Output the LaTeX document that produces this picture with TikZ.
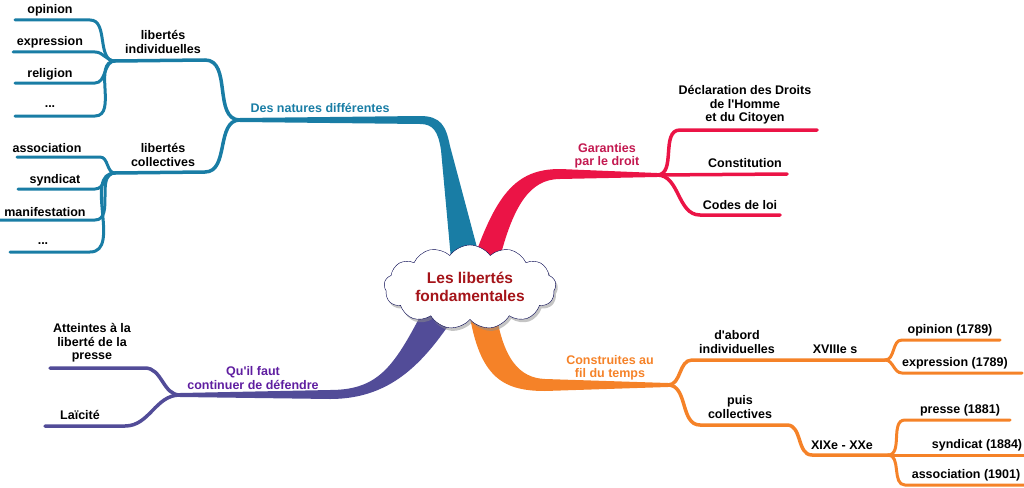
\documentclass[tikz,border=0pt]{standalone}
\usepackage{fontspec}
\setmainfont{Liberation Sans}
\usetikzlibrary{shapes.symbols,shadows}
\definecolor{natblue}{RGB}{25,125,165}
\definecolor{garred}{RGB}{235,20,70}
\definecolor{gartext}{RGB}{195,25,80}
\definecolor{conorange}{RGB}{245,130,40}
\definecolor{defpurple}{RGB}{82,76,152}
\definecolor{deftext}{RGB}{95,30,160}
\definecolor{roottext}{RGB}{165,20,25}

\begin{document}
\begin{tikzpicture}[
	x=1pt,y=-1pt,
	lbl/.style={font=\bfseries\fontsize{12.5}{13.5}\selectfont,align=center,inner sep=0pt},
	leaf/.style={line width=3pt,line cap=round},
	sub/.style={line width=3.5pt,line cap=round},
	]
	\useasboundingbox (0,0) rectangle (1024,487);

	\coordinate (jnat) at (240,120);
	\coordinate (jind) at (115,61);
	\coordinate (jcol) at (115,173);
	\coordinate (jgar) at (657,175);
	\coordinate (jcon) at (668,385);
	\coordinate (jdab) at (790,360);
	\coordinate (jxviii) at (885,360);
	\coordinate (jpuis) at (787,425);
	\coordinate (jxix) at (888,455);
	\coordinate (jdef) at (180,395);

	\fill[natblue] (240,118) -- (420,116) .. controls (441,116) and (446,126) .. (450,146) -- (483,270) -- (452,270) -- (441,150) .. controls (438,131) and (433,124) .. (420,124) -- (240,122) -- cycle;
	\fill[garred] (470,270) .. controls (495,195) and (515,169) .. (560,169) -- (657,173) -- (657,177) -- (560,179) .. controls (530,179) and (512,205) .. (497,270) -- cycle;
	\fill[conorange] (468,305) .. controls (478,375) and (500,391) .. (545,391) -- (668,387) -- (668,383) -- (545,379) .. controls (520,378) and (502,360) .. (495,305) -- cycle;
	\fill[defpurple] (426,305) .. controls (395,365) and (380,390) .. (330,390) -- (180,393) -- (180,397) -- (330,399) .. controls (395,399) and (428,358) .. (462,305) -- cycle;

	\node [cloud,cloud puffs=13,cloud puff arc=110,cloud ignores aspect,minimum width=172pt,minimum height=84pt,draw=black!70!blue,fill=white,thin,
		drop shadow={shadow xshift=2pt,shadow yshift=-3pt,fill=black!45},
		text=roottext,font=\bfseries\fontsize{15.5}{18}\selectfont,align=center] (root) at (470,287) {Les libertés\\ fondamentales};

	\node [lbl,text=natblue] (natures) at (320,108) {Des natures différentes};
	\node [lbl] (libind) at (163,42) {libertés\\ individuelles};
	\node [lbl] (libcol) at (163,155) {libertés\\ collectives};
	\draw[natblue,sub] (jnat) to[out=180,in=0] (205,60) -- (jind);
	\draw[natblue,sub] (jnat) to[out=180,in=0] (205,172) -- (jcol);

	\node [lbl] (opinion) at (50,10) {opinion};
	\node [lbl] (expression) at (50,42) {expression};
	\node [lbl] (religion) at (50,74) {religion};
	\node [lbl] (etcind) at (50,107) {...};
	\draw[natblue,leaf] (jind) to[out=180,in=0] (90,20) -- (15,20);
	\draw[natblue,leaf] (jind) to[out=180,in=0] (95,52) -- (13,52);
	\draw[natblue,leaf] (jind) to[out=180,in=0] (95,83) -- (15,83);
	\draw[natblue,leaf] (jind) to[out=180,in=0] (95,116) -- (15,116);

	\node [lbl] (association) at (47,148) {association};
	\node [lbl] (syndicat) at (55,180) {syndicat};
	\node [lbl] (manif) at (45,212) {manifestation};
	\node [lbl] (etccol) at (43,244) {...};
	\draw[natblue,leaf] (jcol) to[out=180,in=0] (100,157) -- (17,157);
	\draw[natblue,leaf] (jcol) to[out=180,in=0] (95,189) -- (18,189);
	\draw[natblue,leaf] (jcol) to[out=180,in=0] (95,220) -- (0,220);
	\draw[natblue,leaf] (jcol) to[out=180,in=0] (90,252) -- (10,252);

	\node [lbl,text=gartext] (garanties) at (607,156) {Garanties\\ par le droit};
	\node [lbl] (ddhc) at (745,105) {Déclaration des Droits\\ de l\textquotesingle Homme\\ et du Citoyen};
	\node [lbl] (constit) at (745,163) {Constitution};
	\node [lbl] (codes) at (740,205) {Codes de loi};
	\draw[garred,sub] (jgar) to[out=0,in=180] (680,130) -- (817,130);
	\draw[garred,sub] (jgar) -- (787,174);
	\draw[garred,sub] (jgar) to[out=0,in=180] (700,215) -- (780,215);

	\node [lbl,text=conorange] (construites) at (610,368) {Construites au\\ fil du temps};
	\node [lbl] (dabord) at (737,342) {d\textquotesingle abord\\ individuelles};
	\node [lbl] (xviii) at (835,349) {XVIIIe s};
	\node [lbl] (puis) at (740,407) {puis\\ collectives};
	\node [lbl] (xix) at (842,445) {XIXe - XXe};
	\draw[conorange,sub] (jcon) to[out=0,in=180] (692,360) -- (jdab) -- (jxviii);
	\draw[conorange,sub] (jcon) to[out=0,in=180] (700,425) -- (jpuis) to[out=0,in=180] (812,455) -- (jxix);

	\node [lbl] (op1789) at (950,330) {opinion (1789)};
	\node [lbl] (ex1789) at (955,363) {expression (1789)};
	\draw[conorange,leaf] (jxviii) to[out=0,in=180] (902,340) -- (1000,340);
	\draw[conorange,leaf] (jxviii) to[out=0,in=180] (902,373) -- (1022,373);

	\node [lbl] (pr1881) at (960,410) {presse (1881)};
	\node [lbl] (sy1884) at (977,445) {syndicat (1884)};
	\node [lbl] (as1901) at (966,475) {association (1901)};
	\draw[conorange,leaf] (jxix) to[out=0,in=180] (905,420) -- (1010,420);
	\draw[conorange,leaf] (jxix) -- (1024,455);
	\draw[conorange,leaf] (jxix) to[out=0,in=180] (905,485) -- (1024,485);

	\node [lbl,text=deftext] (defendre) at (253,378) {Qu\textquotesingle il faut\\ continuer de défendre};
	\node [lbl] (atteintes) at (92,343) {Atteintes à la\\ liberté de la\\ presse};
	\node [lbl] (laicite) at (80,415) {Laïcité};
	\draw[defpurple,sub] (jdef) to[out=180,in=0] (145,368) -- (50,368);
	\draw[defpurple,sub] (jdef) to[out=180,in=0] (125,426) -- (45,426);
\end{tikzpicture}
\end{document}
